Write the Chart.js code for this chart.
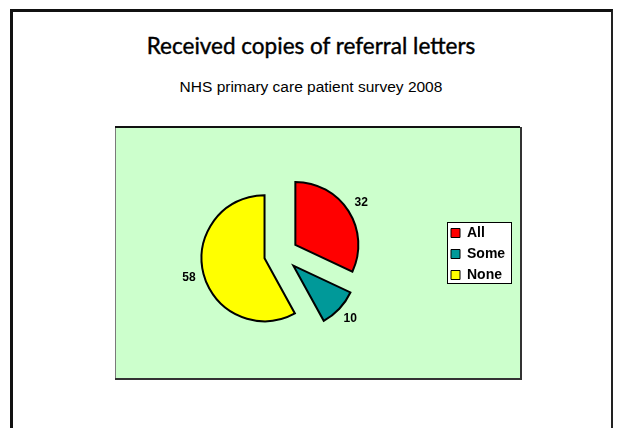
<!DOCTYPE html>
<html>
<head>
<meta charset="utf-8">
<title>Received copies of referral letters</title>
<script src="https://cdn.jsdelivr.net/npm/chart.js@4/dist/chart.umd.min.js"></script>
<style>
  html, body { margin: 0; padding: 0; background: #fff; }
  #slide { position: relative; width: 620px; height: 428px; overflow: hidden; }
  #edge {
    position: absolute; left: 10px; top: 9px; width: 598px; height: 440px;
    border-left: 3px solid #111; border-top: 3px solid #111; border-right: 2px solid #222;
  }
  #heading {
    position: absolute; left: 0; top: 32px; width: 622px; text-align: center;
    font: 22.5px "Lato", "DejaVu Sans", sans-serif; color: #000;
    -webkit-text-stroke: 0.4px #000;
  }
  #subheading {
    position: absolute; left: 0; top: 78px; width: 622px; text-align: center;
    font: 15.5px "Liberation Sans", Arial, sans-serif; color: #000;
  }
  #statsGraph { position: absolute; left: 0; top: 0; }
</style>
</head>
<body>
<div id="slide">
  <div id="edge"></div>
  <div id="heading">Received copies of referral letters</div>
  <div id="subheading">NHS primary care patient survey 2008</div>
  <canvas id="statsGraph" width="620" height="428"></canvas>
</div>
<script>
// survey answers (percent)
var labels = ['All', 'Some', 'None']
var values = [32, 10, 58]
var colours = ['#FF0000', '#009999', '#FFFF00']

// MARK: layout of the plot area
var plotBox = { left: 115, top: 127, right: 520, bottom: 378 }
var pieX = 281
var legendLeft = 444
var explode = 68   // chart.js moves a slice by offset / 4

// keep every exploded slice at the same radius (chart.js grows big slices otherwise)
var arcDraw = Chart.ArcElement.prototype.draw
Chart.ArcElement.prototype.draw = function (ctx) {
    var c = this.circumference
    if (c > 0 && c < Math.PI * 2) this.circumference = Math.PI / 2
    arcDraw.call(this, ctx)
    this.circumference = c
}

// green plot area and the white legend frame
var backdrop = {
    id: 'backdrop',
    beforeDraw: function (chart) {
        var ctx = chart.ctx
        ctx.save()
        ctx.fillStyle = '#CCFFCC'
        ctx.fillRect(plotBox.left, plotBox.top, plotBox.right - plotBox.left, plotBox.bottom - plotBox.top)
        ctx.strokeStyle = '#7a7a7a'
        ctx.lineWidth = 1
        ctx.strokeRect(plotBox.left + 0.5, plotBox.top + 0.5, plotBox.right - plotBox.left, plotBox.bottom - plotBox.top)
        ctx.strokeStyle = '#333'
        ctx.lineWidth = 2
        ctx.beginPath()
        ctx.moveTo(plotBox.left, plotBox.bottom + 1)
        ctx.lineTo(plotBox.right + 1, plotBox.bottom + 1)
        ctx.lineTo(plotBox.right + 1, plotBox.top)
        ctx.stroke()
        ctx.beginPath()
        ctx.moveTo(plotBox.left, plotBox.top)
        ctx.lineTo(plotBox.right, plotBox.top)
        ctx.strokeStyle = '#111'
        ctx.stroke()

        var boxes = chart.legend.legendHitBoxes
        if (boxes && boxes.length) {
            var l = Infinity, t = Infinity, r = -Infinity, b = -Infinity
            boxes.forEach(function (h) {
                l = Math.min(l, h.left); t = Math.min(t, h.top)
                r = Math.max(r, h.left + h.width); b = Math.max(b, h.top + h.height)
            })
            l -= 4; t -= 4; r += 6; b += 1
            ctx.fillStyle = '#fff'
            ctx.fillRect(l, t, r - l, b - t)
            ctx.strokeStyle = '#000'
            ctx.lineWidth = 1
            ctx.strokeRect(Math.round(l) + 0.5, Math.round(t) + 0.5, Math.round(r - l), Math.round(b - t))
        }
        ctx.restore()
    }
}

// value next to each slice
var sliceValues = {
    id: 'sliceValues',
    afterDatasetsDraw: function (chart) {
        var ctx = chart.ctx
        var meta = chart.getDatasetMeta(0)
        ctx.save()
        ctx.font = 'bold 12px "Liberation Sans", Arial, sans-serif'
        ctx.fillStyle = '#000'
        ctx.textAlign = 'center'
        ctx.textBaseline = 'middle'
        meta.data.forEach(function (arc, i) {
            var p = arc.getProps(['x', 'y', 'startAngle', 'endAngle', 'outerRadius'], true)
            var mid = (p.startAngle + p.endAngle) / 2
            var d = p.outerRadius + arc.options.offset / 4 + 15
            ctx.fillText(values[i], p.x + Math.cos(mid) * d, p.y + Math.sin(mid) * d)
        })
        ctx.restore()
    }
}

// MARK: Configuring graph
var ctx = document.getElementById('statsGraph')
var myChart = new Chart(ctx, {
    type: 'pie',
    data: {
        labels: labels,
        datasets: [{
            data: values,
            backgroundColor: colours,
            borderColor: '#000',
            borderWidth: 2,
            borderJoinStyle: 'miter',
            offset: explode,
            radius: 63
        }]
    },
    options: {
        responsive: false,
        animation: false,
        layout: { padding: { left: 100, right: 80, top: 138, bottom: 58 } },
        plugins: {
            tooltip: { enabled: false },
            legend: {
                position: 'right',
                labels: {
                    color: '#000',
                    boxWidth: 9,
                    boxHeight: 9,
                    padding: 7,
                    font: { family: '"Liberation Sans", Arial, sans-serif', size: 14, weight: 'bold' },
                    generateLabels: function (chart) {
                        var items = Chart.overrides.pie.plugins.legend.labels.generateLabels(chart)
                        items.forEach(function (it) { it.lineWidth = 1 })
                        return items
                    }
                }
            }
        }
    },
    plugins: [backdrop, sliceValues]
})

// put the legend column at legendLeft and centre the pie on pieX
myChart.options.layout.padding.right = 620 - legendLeft - myChart.legend.width
myChart.options.layout.padding.left = 2 * pieX - legendLeft
myChart.update('none')
</script>
</body>
</html>
